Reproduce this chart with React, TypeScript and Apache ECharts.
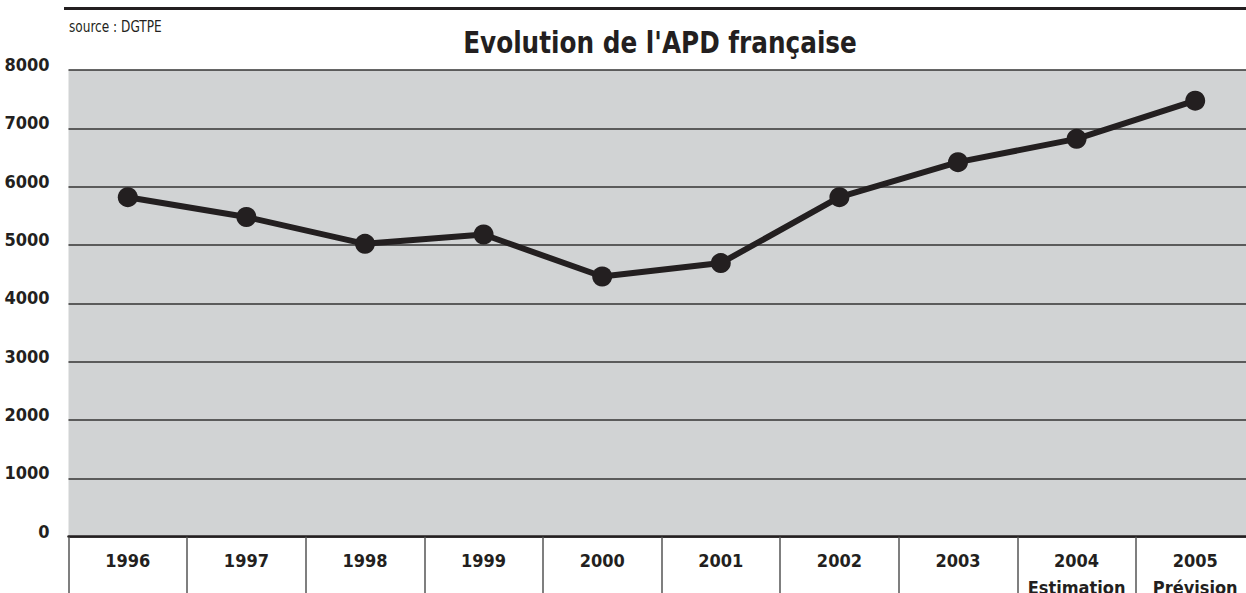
import React, { useEffect, useRef } from "react";
import * as echarts from "echarts";

const categories = ["1996", "1997", "1998", "1999", "2000", "2001", "2002", "2003", "2004\nEstimation", "2005\nPrévision"];
const apdValues = [5820, 5480, 5020, 5180, 4460, 4690, 5820, 6420, 6820, 7475];
const titleText = "Evolution de l'APD française";
const sourceText = "source : DGTPE";

const FONT = "'DejaVu Sans Condensed', 'Liberation Sans Narrow', sans-serif";
const INK = "#231f20";

export default function App() {
  const ref = useRef<HTMLDivElement>(null);
  useEffect(() => {
    if (!ref.current) return;
    const chart = echarts.init(ref.current, undefined, { renderer: "svg" });
    chart.setOption({
      animation: false,
      backgroundColor: "#ffffff",
      graphic: [
        {
          type: "line",
          shape: { x1: 64, y1: 8.5, x2: 1246, y2: 8.5 },
          style: { stroke: INK, lineWidth: 3 },
        },
        {
          type: "text",
          x: 69,
          y: 27,
          scaleX: 0.9,
          style: {
            text: sourceText,
            fontFamily: FONT,
            fontSize: 15,
            fill: INK,
            textVerticalAlign: "middle",
          },
        },
        {
          type: "text",
          x: 660,
          y: 42,
          scaleX: 0.887,
          style: {
            text: titleText,
            fontFamily: FONT,
            fontWeight: "bold",
            fontSize: 31,
            fill: INK,
            textAlign: "center",
            textVerticalAlign: "middle",
          },
        },
      ],
      grid: {
        left: 68.5,
        top: 70,
        width: 1186,
        height: 466.7,
        show: true,
        backgroundColor: "#d1d3d4",
        borderWidth: 0,
        containLabel: false,
        outerBoundsMode: "none",
      },
      xAxis: {
        type: "category",
        data: categories,
        boundaryGap: true,
        axisLine: { show: true, lineStyle: { color: INK, width: 2.5 } },
        axisTick: { show: true, length: 60, lineStyle: { color: "#555555", width: 1.5 } },
        axisLabel: {
          margin: 10,
          fontFamily: FONT,
          fontWeight: "bold",
          fontSize: 18,
          lineHeight: 27,
          color: INK,
          interval: 0,
        },
        splitLine: { show: false },
      },
      yAxis: {
        type: "value",
        min: 0,
        max: 8000,
        interval: 1000,
        axisLine: { show: false },
        axisTick: { show: false },
        axisLabel: {
          margin: 19,
          fontFamily: FONT,
          fontWeight: "bold",
          fontSize: 18,
          lineHeight: 11,
          color: INK,
          verticalAlign: "bottom",
          formatter: (v: number) => String(v),
        },
        splitLine: { show: true, lineStyle: { color: "#333333", width: 1.5 } },
      },
      series: [
        {
          type: "line",
          data: apdValues,
          symbol: "circle",
          symbolSize: 20,
          lineStyle: { color: INK, width: 6 },
          itemStyle: { color: INK },
          z: 5,
        },
      ],
    });
    return () => chart.dispose();
  }, []);
  return (
    <div
      ref={ref}
      style={{ position: "absolute", left: 0, top: 0, width: 1246, height: 593 }}
    />
  );
}
